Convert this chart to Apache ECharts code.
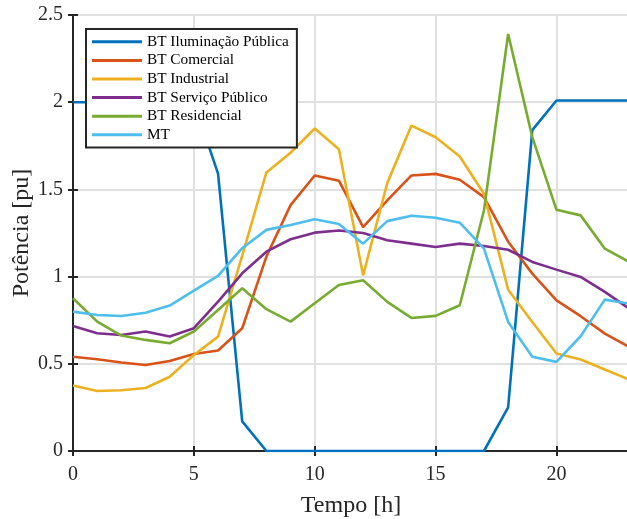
<!DOCTYPE html>
<html><head><meta charset="utf-8">
<script src="https://cdn.jsdelivr.net/npm/echarts@6/dist/echarts.min.js"></script>
<style>html,body{margin:0;padding:0;background:#fff}#c{width:627px;height:519px}</style>
</head><body><div id="c"></div>
<script>
const hours = [0,1,2,3,4,5,6,7,8,9,10,11,12,13,14,15,16,17,18,19,20,21,22,23];
const names = ['BT Iluminação Pública','BT Comercial','BT Industrial','BT Serviço Público','BT Residencial','MT'];
const iluminacao = [2.0,2.0,2.0,2.0,2.0,2.0,1.59,0.17,0,0,0,0,0,0,0,0,0,0,0.25,1.84,2.01,2.01,2.01,2.01];
const comercial  = [0.54,0.526,0.507,0.493,0.516,0.556,0.576,0.704,1.115,1.41,1.58,1.55,1.284,1.437,1.58,1.589,1.555,1.456,1.2,1.017,0.864,0.773,0.673,0.597];
const industrial = [0.375,0.344,0.348,0.361,0.426,0.55,0.656,1.12,1.597,1.71,1.849,1.73,1.007,1.536,1.866,1.799,1.689,1.475,0.925,0.74,0.559,0.525,0.467,0.41];
const servico    = [0.717,0.675,0.665,0.685,0.656,0.704,0.857,1.019,1.143,1.214,1.252,1.264,1.25,1.208,1.189,1.17,1.189,1.175,1.154,1.084,1.04,0.998,0.912,0.817];
const residencial= [0.876,0.742,0.662,0.637,0.618,0.685,0.809,0.933,0.813,0.742,0.847,0.952,0.979,0.855,0.763,0.775,0.836,1.379,2.391,1.8,1.383,1.351,1.16,1.084];
const mt         = [0.799,0.78,0.774,0.793,0.834,0.92,1.004,1.163,1.268,1.296,1.329,1.302,1.189,1.318,1.349,1.337,1.309,1.16,0.74,0.54,0.511,0.658,0.868,0.845];
const colors = ['#0072BD','#D95319','#EDB120','#7E2F8E','#77AC30','#4DBEEE'];
const seriesData = [iluminacao, comercial, industrial, servico, residencial, mt];
const font = '"Liberation Serif","Times New Roman",serif';
const axisCol = '#262626';
const chart = echarts.init(document.getElementById('c'), null, {renderer:'canvas'});
chart.setOption({
  backgroundColor:'#fff',
  animation:false,
  grid:{left:73, top:15, width:556, height:436, show:false, outerBoundsMode:'none', containLabel:false},
  legend:{
    orient:'vertical', left:86, top:29, data:names,
    icon:'rect', itemWidth:50, itemHeight:3, itemGap:0,
    padding:[3.5,8,3.5,6],
    borderColor:axisCol, borderWidth:2, backgroundColor:'#fff',
    textStyle:{fontFamily:font, fontSize:15.3, color:'#000', lineHeight:18.6},
    z:10
  },
  xAxis:[{
    type:'value', min:0, max:23, interval:5, position:'bottom',
    name:'Tempo [h]', nameLocation:'middle', nameGap:43, nameMoveOverlap:false,
    nameTextStyle:{fontFamily:font, fontSize:24, color:'#262626'},
    axisLine:{lineStyle:{color:axisCol, width:2}},
    axisTick:{inside:true, length:5, lineStyle:{color:axisCol, width:2}},
    axisLabel:{fontFamily:font, fontSize:20, color:'#262626', margin:14, showMaxLabel:false},
    splitLine:{show:true, lineStyle:{color:'#e0e0e0', width:2}}
  },{
    type:'value', min:0, max:23, interval:5, position:'top',
    axisLine:{lineStyle:{color:axisCol, width:2}},
    axisTick:{inside:true, length:5, lineStyle:{color:axisCol, width:2}},
    axisLabel:{show:false}, splitLine:{show:false}
  }],
  yAxis:[{
    type:'value', min:0, max:2.5, interval:0.5, position:'left',
    name:'Potência [pu]', nameLocation:'middle', nameGap:39, nameMoveOverlap:false,
    nameTextStyle:{fontFamily:font, fontSize:24, color:'#262626'},
    axisLine:{show:true, lineStyle:{color:axisCol, width:2}},
    axisTick:{show:true, inside:true, length:5, lineStyle:{color:axisCol, width:2}},
    axisLabel:{fontFamily:font, fontSize:20, color:'#262626', margin:10, padding:[5,0,0,0]},
    splitLine:{show:true, lineStyle:{color:'#e0e0e0', width:2}}
  },{
    type:'value', min:0, max:2.5, interval:0.5, position:'right',
    axisLine:{show:true, lineStyle:{color:axisCol, width:2}},
    axisTick:{show:true, inside:true, length:5, lineStyle:{color:axisCol, width:2}},
    axisLabel:{show:false}, splitLine:{show:false}
  }],
  series: names.map((n,i)=>({
    name:n, type:'line', symbol:'none',
    data: hours.map((h,j)=>[h, seriesData[i][j]]),
    lineStyle:{color:colors[i], width:2.6},
    itemStyle:{color:colors[i]},
    clip:true
  }))
});
</script></body></html>
